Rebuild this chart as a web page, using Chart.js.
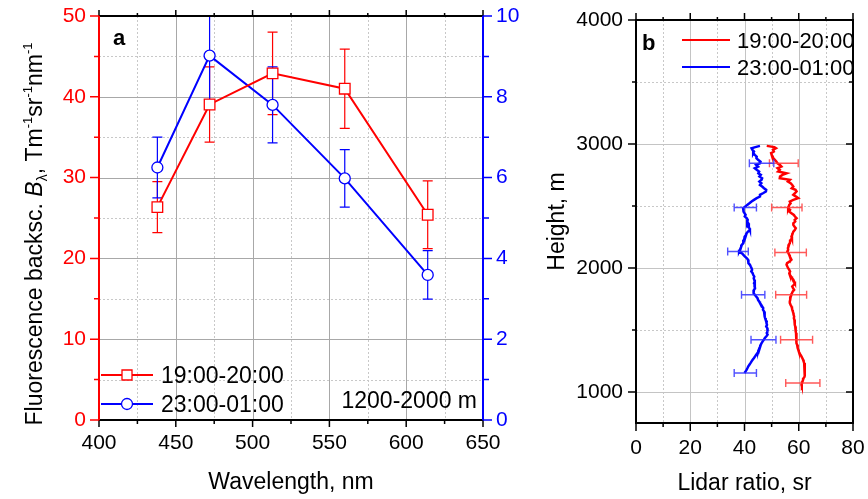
<!DOCTYPE html>
<html>
<head>
<meta charset="utf-8">
<script src="https://cdn.jsdelivr.net/npm/chart.js@4.4.0/dist/chart.umd.min.js"></script>
<style>
  body { margin: 0; background: #fff; }
  #wrapA { position: absolute; left: 0; top: 0; width: 540px; height: 499px; }
  #wrapB { position: absolute; left: 540px; top: 0; width: 328px; height: 499px; }
</style>
</head>
<body>
<div id="wrapA"><canvas id="fluoChart" width="540" height="499"></canvas></div>
<div id="wrapB"><canvas id="lidarChart" width="328" height="499"></canvas></div>
<script>
const FONT = "'Liberation Sans', Arial, sans-serif";
Chart.defaults.font.family = FONT;
Chart.defaults.color = "#000";

// painel a: retroespalhamento de fluorescência
const wavelengths = [438, 472, 513, 560, 614];
const fluoEvening = [26.35, 39.05, 42.9, 41.0, 25.4];
const fluoEveningErr = [3.15, 4.65, 5.1, 4.9, 4.2];
const fluoNight = [6.25, 9.02, 7.8, 5.98, 3.59];
const fluoNightErr = [0.75, 1.1, 0.94, 0.71, 0.6];
const waveTicks = [400, 450, 500, 550, 600, 650];
const waveMinor = [425, 475, 525, 575, 625];
const fluoTicks = [0, 10, 20, 30, 40, 50];
const fluoMinor = [5, 15, 25, 35, 45];
const nightTicks = [0, 2, 4, 6, 8, 10];
const nightMinor = [1, 3, 5, 7, 9];
const periodLabels = ["19:00-20:00", "23:00-01:00"];

// painel b: razão lidar por altura
const profileHeights = [
  2985, 2975, 2966, 2953, 2939, 2926, 2912, 2898, 2885, 2872,
  2858, 2845, 2832, 2818, 2805, 2791, 2778, 2764, 2751, 2738,
  2724, 2711, 2697, 2684, 2670, 2657, 2643, 2630, 2617, 2603,
  2590, 2576, 2563, 2549, 2536, 2522, 2509, 2495, 2482, 2469,
  2455, 2442, 2428, 2415, 2402, 2388, 2375, 2361, 2348, 2334,
  2321, 2308, 2294, 2281, 2267, 2254, 2240, 2227, 2213, 2200,
  2187, 2173, 2160, 2147, 2133, 2120, 2106, 2093, 2080, 2066,
  2052, 2039, 2026, 2012, 1999, 1985, 1972, 1958, 1945, 1931,
  1918, 1905, 1891, 1878, 1865, 1851, 1838, 1824, 1811, 1797,
  1784, 1770, 1757, 1743, 1730, 1717, 1703, 1690, 1677, 1663,
  1650, 1636, 1623, 1609, 1596, 1582, 1569, 1556, 1542, 1529,
  1515, 1502, 1489, 1475, 1462, 1448, 1435, 1421, 1408, 1394,
  1381, 1367, 1354, 1341, 1327, 1314, 1300, 1287, 1274, 1260,
  1247, 1233, 1220, 1207, 1193, 1180, 1166, 1153, 1140, 1126,
  1113, 1099, 1086, 1072, 1059, 1051
];
const ratioEvening = [
  48.2, 51.0, 51.6, 50.5, 50.8, 49.8, 50.0, 50.4, 50.6, 51.2,
  51.8, 52.1, 53.0, 53.6, 52.2, 53.0, 52.4, 55.5, 54.0, 53.1,
  53.0, 56.7, 56.0, 57.0, 57.6, 58.0, 57.4, 58.8, 59.2, 58.6,
  58.0, 59.0, 59.8, 58.0, 56.7, 57.0, 56.5, 56.3, 56.1, 56.8,
  56.5, 57.3, 58.2, 58.6, 59.2, 58.5, 58.7, 58.0, 58.0, 58.4,
  58.9, 58.6, 58.0, 57.8, 57.6, 57.3, 57.5, 57.0, 56.8, 56.7,
  56.3, 56.2, 56.0, 56.1, 55.8, 56.2, 56.5, 56.7, 57.0, 57.3,
  56.6, 55.7, 55.5, 55.8, 56.1, 56.5, 56.8, 56.5, 56.7, 57.2,
  57.5, 58.0, 58.3, 58.6, 58.2, 57.6, 57.9, 58.3, 57.8, 57.5,
  57.3, 57.0, 56.8, 56.9, 56.7, 56.7, 57.0, 57.3, 57.5, 57.6,
  57.8, 58.0, 58.1, 58.3, 58.2, 58.4, 58.5, 58.5, 58.6, 58.7,
  58.8, 58.9, 58.9, 59.0, 59.0, 59.1, 59.1, 59.2, 59.2, 59.3,
  59.4, 59.5, 59.7, 59.8, 60.0, 60.3, 60.6, 61.0, 61.3, 61.6,
  61.8, 62.0, 62.1, 62.2, 62.3, 62.3, 62.3, 62.3, 62.2, 62.0,
  61.8, 61.6, 61.4, 61.2, 61.0, 61.1
];
const ratioNight = [
  45.7, 44.0, 42.6, 42.9, 43.5, 43.2, 43.8, 44.5, 44.4, 45.0,
  45.9, 45.7, 44.3, 45.0, 43.8, 44.6, 45.4, 45.1, 46.0, 45.5,
  46.5, 46.3, 45.5, 46.2, 45.7, 46.5, 47.2, 48.0, 47.9, 46.8,
  45.7, 45.7, 44.5, 43.5, 42.6, 41.8, 41.0, 40.3, 39.5, 39.8,
  39.5, 40.0, 40.4, 40.1, 40.8, 41.2, 41.0, 41.4, 41.6, 41.2,
  41.8, 42.0, 41.3, 40.8, 40.6, 40.1, 40.0, 39.8, 39.6, 39.5,
  39.0, 38.8, 38.6, 38.3, 38.0, 39.0, 39.6, 40.1, 40.8, 41.3,
  41.5, 41.4, 42.0, 42.3, 42.6, 42.8, 42.5, 43.0, 43.2, 43.6,
  43.4, 43.6, 43.8, 43.5, 43.8, 43.7, 43.9, 43.5, 43.2, 43.5,
  43.8, 44.3, 44.8, 45.0, 45.4, 45.7, 46.2, 46.5, 46.9, 46.8,
  47.2, 47.5, 47.3, 47.5, 47.6, 47.8, 48.2, 48.1, 48.3, 48.0,
  48.4, 48.6, 48.4, 48.2, 48.5, 48.0, 47.5, 47.1, 46.7, 46.3,
  46.0, 45.8, 45.5, 45.3, 45.1, 44.8, 44.3, 43.9, 43.5, 43.0,
  42.6, 42.2, 41.8, 41.4, 41.1, 40.8, 40.4, 40.0
];
const barHeightsEvening = [2845, 2488, 2125, 1784, 1421, 1072];
const barRatioEvening = [54.5, 55.6, 57.0, 57.2, 59.2, 61.5];
const barErrEvening = [5.3, 5.6, 5.8, 5.7, 5.9, 6.3];
const barHeightsNight = [2845, 2488, 2133, 1784, 1421, 1153];
const barRatioNight = [46.3, 40.3, 37.6, 43.2, 47.0, 40.3];
const barErrNight = [4.5, 4.1, 3.8, 4.3, 4.6, 4.1];
const ratioTicks = [0, 20, 40, 60, 80];
const ratioMinor = [10, 30, 50, 70];
const heightTicks = [1000, 2000, 3000, 4000];
const heightMinor = [1500, 2500, 3500];

// utilitários de desenho
function gridLines(ctx, a, scale, values, horizontal, color, dash) {
  ctx.save();
  ctx.strokeStyle = color;
  ctx.lineWidth = 1;
  ctx.setLineDash(dash);
  values.forEach(v => {
    const p = Math.round(scale.getPixelForValue(v)) + 0.5;
    ctx.beginPath();
    if (horizontal) { ctx.moveTo(a.left, p); ctx.lineTo(a.right, p); }
    else { ctx.moveTo(p, a.top); ctx.lineTo(p, a.bottom); }
    ctx.stroke();
  });
  ctx.restore();
}

function tickMarks(ctx, scale, values, side, len, color) {
  const a = scale.chart.chartArea;
  ctx.save();
  ctx.strokeStyle = color;
  ctx.lineWidth = 1.5;
  ctx.beginPath();
  values.forEach(v => {
    const p = scale.getPixelForValue(v);
    if (side === "bottom") { ctx.moveTo(p, a.bottom); ctx.lineTo(p, a.bottom + len); }
    if (side === "top") { ctx.moveTo(p, a.top); ctx.lineTo(p, a.top - len); }
    if (side === "left") { ctx.moveTo(a.left, p); ctx.lineTo(a.left - len, p); }
    if (side === "right") { ctx.moveTo(a.right, p); ctx.lineTo(a.right + len, p); }
  });
  ctx.stroke();
  ctx.restore();
}

function edge(ctx, x1, y1, x2, y2, color) {
  ctx.save();
  ctx.strokeStyle = color;
  ctx.lineWidth = 2;
  ctx.beginPath();
  ctx.moveTo(x1, y1);
  ctx.lineTo(x2, y2);
  ctx.stroke();
  ctx.restore();
}

function clipArea(ctx, a) {
  ctx.beginPath();
  ctx.rect(a.left, a.top, a.right - a.left, a.bottom - a.top);
  ctx.clip();
}

function verticalBars(ctx, chart, index, errs, color) {
  const meta = chart.getDatasetMeta(index);
  const yScale = chart.scales[meta.yAxisID];
  const ds = chart.data.datasets[index];
  ctx.strokeStyle = color;
  ctx.lineWidth = 1.2;
  ds.data.forEach((d, i) => {
    const x = meta.data[i].x;
    const top = yScale.getPixelForValue(d.y + errs[i]);
    const bot = yScale.getPixelForValue(d.y - errs[i]);
    ctx.beginPath();
    ctx.moveTo(x, top); ctx.lineTo(x, bot);
    ctx.moveTo(x - 5, top); ctx.lineTo(x + 5, top);
    ctx.moveTo(x - 5, bot); ctx.lineTo(x + 5, bot);
    ctx.stroke();
  });
}

function horizontalBars(ctx, chart, heights, centers, errs, color) {
  const { x: xs, y: ys } = chart.scales;
  ctx.strokeStyle = color;
  ctx.lineWidth = 1.4;
  heights.forEach((h, i) => {
    const y = ys.getPixelForValue(h);
    const l = xs.getPixelForValue(centers[i] - errs[i]);
    const r = xs.getPixelForValue(centers[i] + errs[i]);
    ctx.beginPath();
    ctx.moveTo(l, y); ctx.lineTo(r, y);
    ctx.moveTo(l, y - 4); ctx.lineTo(l, y + 4);
    ctx.moveTo(r, y - 4); ctx.lineTo(r, y + 4);
    ctx.stroke();
  });
}

function drawFluoTitle(ctx, x, centerY) {
  const parts = [
    ["Fluorescence backsc. ", "", 23, 0],
    ["B", "italic ", 23, 0],
    ["\u03bb", "", 14, 5],
    [", Tm", "", 23, 0],
    ["-1", "", 13, -10],
    ["sr", "", 23, 0],
    ["-1", "", 13, -10],
    ["nm", "", 23, 0],
    ["-1", "", 13, -10]
  ];
  ctx.save();
  let total = 0;
  parts.forEach(([t, style, size]) => {
    ctx.font = style + size + "px " + FONT;
    total += ctx.measureText(t).width;
  });
  ctx.translate(x, centerY + total / 2);
  ctx.rotate(-Math.PI / 2);
  ctx.fillStyle = "#000";
  ctx.textBaseline = "alphabetic";
  let cx = 0;
  parts.forEach(([t, style, size, dy]) => {
    ctx.font = style + size + "px " + FONT;
    ctx.fillText(t, cx, dy);
    cx += ctx.measureText(t).width;
  });
  ctx.restore();
}

const tickFont = { size: 21 };
const plain = v => String(v);
// tamanho fixo do eixo, sem folga automática dos rótulos
function fixBox(w, h) {
  return s => {
    if (w) s.width = w;
    if (h) s.height = h;
    s.paddingTop = 0; s.paddingBottom = 0; s.paddingLeft = 0; s.paddingRight = 0;
  };
}

// painel a
const panelA = {
  id: "panelA",
  beforeDatasetsDraw(chart) {
    const { ctx, chartArea: a, scales: { x, y } } = chart;
    gridLines(ctx, a, x, waveMinor, false, "#c8c8c8", [2, 2]);
    gridLines(ctx, a, y, fluoMinor, true, "#c8c8c8", [2, 2]);
    gridLines(ctx, a, x, waveTicks, false, "#a8a8a8", []);
    gridLines(ctx, a, y, fluoTicks, true, "#a8a8a8", []);
    ctx.save();
    clipArea(ctx, a);
    verticalBars(ctx, chart, 0, fluoEveningErr, "#ff0000");
    verticalBars(ctx, chart, 1, fluoNightErr, "#0000ff");
    ctx.restore();
  },
  afterDraw(chart) {
    const { ctx, chartArea: a, scales: { x, y, y1 } } = chart;
    edge(ctx, a.left, a.top, a.right, a.top, "#000");
    edge(ctx, a.left, a.bottom, a.right, a.bottom, "#000");
    edge(ctx, a.left, a.top - 1, a.left, a.bottom + 1, "#ff0000");
    edge(ctx, a.right, a.top - 1, a.right, a.bottom + 1, "#0000ff");
    tickMarks(ctx, x, waveTicks, "bottom", 7, "#000");
    tickMarks(ctx, x, waveMinor, "bottom", 4, "#000");
    tickMarks(ctx, x, waveTicks, "top", 6, "#000");
    tickMarks(ctx, x, waveMinor, "top", 3, "#000");
    tickMarks(ctx, y, fluoTicks, "left", 9, "#ff0000");
    tickMarks(ctx, y, fluoMinor, "left", 5, "#ff0000");
    tickMarks(ctx, y1, nightTicks, "right", 9, "#0000ff");
    tickMarks(ctx, y1, nightMinor, "right", 6, "#0000ff");

    // legenda interna
    ctx.save();
    const rows = [375, 404];
    chart.data.datasets.forEach((ds, i) => {
      const ly = rows[i];
      ctx.strokeStyle = ds.borderColor;
      ctx.lineWidth = 2;
      ctx.beginPath();
      ctx.moveTo(a.left + 2, ly); ctx.lineTo(a.left + 54, ly);
      ctx.stroke();
      ctx.fillStyle = "#fff";
      ctx.lineWidth = 1.3;
      ctx.beginPath();
      if (ds.pointStyle === "rect") ctx.rect(a.left + 23, ly - 5, 10, 10);
      else ctx.arc(a.left + 28, ly, 5.5, 0, Math.PI * 2);
      ctx.fill();
      ctx.stroke();
      ctx.fillStyle = "#000";
      ctx.font = "23px " + FONT;
      ctx.fillText(ds.label, a.left + 62, ly + 8);
    });
    ctx.font = "23px " + FONT;
    ctx.textAlign = "right";
    ctx.fillText("1200-2000 m", a.right - 6, 408);
    ctx.textAlign = "left";
    ctx.font = "bold 22px " + FONT;
    ctx.fillText("a", a.left + 14, 45);
    ctx.restore();

    drawFluoTitle(ctx, 42, 234);
  }
};

new Chart(document.getElementById("fluoChart"), {
  type: "scatter",
  data: {
    datasets: [
      {
        label: periodLabels[0],
        data: wavelengths.map((w, i) => ({ x: w, y: fluoEvening[i] })),
        yAxisID: "y",
        showLine: true,
        borderColor: "#ff0000",
        borderWidth: 2,
        pointStyle: "rect",
        pointRadius: 7.5,
        pointBorderWidth: 1.3,
        pointBorderColor: "#ff0000",
        pointBackgroundColor: "#fff"
      },
      {
        label: periodLabels[1],
        data: wavelengths.map((w, i) => ({ x: w, y: fluoNight[i] })),
        yAxisID: "y1",
        showLine: true,
        borderColor: "#0000ff",
        borderWidth: 2,
        pointStyle: "circle",
        pointRadius: 5.5,
        pointBorderWidth: 1.3,
        pointBorderColor: "#0000ff",
        pointBackgroundColor: "#fff"
      }
    ]
  },
  options: {
    responsive: false,
    animation: false,
    events: [],
    layout: { padding: { top: 16, left: 0, right: 0, bottom: 0 } },
    plugins: { legend: { display: false }, tooltip: { enabled: false } },
    scales: {
      x: {
        type: "linear", min: 400, max: 650,
        afterBuildTicks: s => { s.ticks = waveTicks.map(v => ({ value: v })); },
        afterFit: fixBox(0, 79),
        grid: { display: false, drawTicks: false },
        border: { display: false },
        ticks: { font: tickFont, color: "#000", padding: 11, maxRotation: 0, autoSkip: false, callback: plain },
        title: { display: true, text: "Wavelength, nm", font: { size: 23 }, color: "#000", padding: { top: 0, bottom: 3 } }
      },
      y: {
        type: "linear", position: "left", min: 0, max: 50,
        afterBuildTicks: s => { s.ticks = fluoTicks.map(v => ({ value: v })); },
        afterFit: fixBox(99, 0),
        grid: { display: false, drawTicks: false },
        border: { display: false },
        ticks: { font: tickFont, color: "#ff0000", padding: 13, autoSkip: false, callback: plain }
      },
      y1: {
        type: "linear", position: "right", min: 0, max: 10,
        afterBuildTicks: s => { s.ticks = nightTicks.map(v => ({ value: v })); },
        afterFit: fixBox(57, 0),
        grid: { display: false, drawTicks: false },
        border: { display: false },
        ticks: { font: tickFont, color: "#0000ff", padding: 13, autoSkip: false, callback: plain }
      }
    }
  },
  plugins: [panelA]
});

// painel b
const panelB = {
  id: "panelB",
  beforeDatasetsDraw(chart) {
    const { ctx, chartArea: a, scales: { x, y } } = chart;
    gridLines(ctx, a, x, ratioMinor, false, "#c8c8c8", [2, 2]);
    gridLines(ctx, a, y, heightMinor, true, "#c8c8c8", [2, 2]);
    gridLines(ctx, a, x, ratioTicks, false, "#c4c4c4", []);
    gridLines(ctx, a, y, heightTicks, true, "#c4c4c4", []);
  },
  afterDatasetsDraw(chart) {
    const { ctx, chartArea: a } = chart;
    ctx.save();
    clipArea(ctx, a);
    horizontalBars(ctx, chart, barHeightsEvening, barRatioEvening, barErrEvening, "rgba(255,60,60,0.85)");
    horizontalBars(ctx, chart, barHeightsNight, barRatioNight, barErrNight, "rgba(50,50,255,0.85)");
    ctx.restore();
  },
  afterDraw(chart) {
    const { ctx, chartArea: a, scales: { x, y } } = chart;
    edge(ctx, a.left, a.top, a.right, a.top, "#000");
    edge(ctx, a.left, a.bottom, a.right, a.bottom, "#000");
    edge(ctx, a.left, a.top - 1, a.left, a.bottom + 1, "#000");
    edge(ctx, a.right, a.top - 1, a.right, a.bottom + 1, "#000");
    tickMarks(ctx, x, ratioTicks, "bottom", 8, "#000");
    tickMarks(ctx, x, ratioMinor, "bottom", 4, "#000");
    tickMarks(ctx, x, ratioTicks, "top", 7, "#000");
    tickMarks(ctx, x, ratioMinor, "top", 3, "#000");
    tickMarks(ctx, y, heightTicks, "left", 8, "#000");
    tickMarks(ctx, y, heightMinor, "left", 4, "#000");
    tickMarks(ctx, y, heightTicks, "right", -7, "#000");
    tickMarks(ctx, y, heightMinor, "right", -4, "#000");

    ctx.save();
    const rows = [40, 67];
    chart.data.datasets.forEach((ds, i) => {
      ctx.strokeStyle = ds.borderColor;
      ctx.lineWidth = 2;
      ctx.beginPath();
      ctx.moveTo(a.left + 46, rows[i]); ctx.lineTo(a.left + 94, rows[i]);
      ctx.stroke();
      ctx.fillStyle = "#000";
      ctx.font = "22px " + FONT;
      ctx.fillText(ds.label, a.left + 101, rows[i] + 8);
    });
    ctx.font = "bold 22px " + FONT;
    ctx.fillText("b", a.left + 6, 50);
    ctx.restore();
  }
};

new Chart(document.getElementById("lidarChart"), {
  type: "scatter",
  data: {
    datasets: [
      {
        label: periodLabels[0],
        data: ratioEvening.map((v, i) => ({ x: v, y: profileHeights[i] })),
        showLine: true,
        borderColor: "#ff0000",
        borderWidth: 2.5,
        pointRadius: 0
      },
      {
        label: periodLabels[1],
        data: ratioNight.map((v, i) => ({ x: v, y: profileHeights[i] })),
        showLine: true,
        borderColor: "#0000ff",
        borderWidth: 2.5,
        pointRadius: 0
      }
    ]
  },
  options: {
    responsive: false,
    animation: false,
    events: [],
    layout: { padding: { top: 20, left: 0, right: 15, bottom: 0 } },
    plugins: { legend: { display: false }, tooltip: { enabled: false } },
    scales: {
      x: {
        type: "linear", min: 0, max: 80,
        afterBuildTicks: s => { s.ticks = ratioTicks.map(v => ({ value: v })); },
        afterFit: fixBox(0, 76),
        grid: { display: false, drawTicks: false },
        border: { display: false },
        ticks: { font: tickFont, color: "#000", padding: 13, maxRotation: 0, autoSkip: false, callback: plain },
        title: { display: true, text: "Lidar ratio, sr", font: { size: 23 }, color: "#000", padding: { top: 0, bottom: 2 } }
      },
      y: {
        type: "linear", position: "left", min: 750, max: 4000,
        afterBuildTicks: s => { s.ticks = heightTicks.map(v => ({ value: v })); },
        afterFit: fixBox(96, 0),
        grid: { display: false, drawTicks: false },
        border: { display: false },
        ticks: { font: tickFont, color: "#000", padding: 13, autoSkip: false, callback: plain },
        title: { display: true, text: "Height, m", font: { size: 23 }, color: "#000", padding: { top: 4, bottom: 0 } }
      }
    }
  },
  plugins: [panelB]
});
</script>
</body>
</html>
